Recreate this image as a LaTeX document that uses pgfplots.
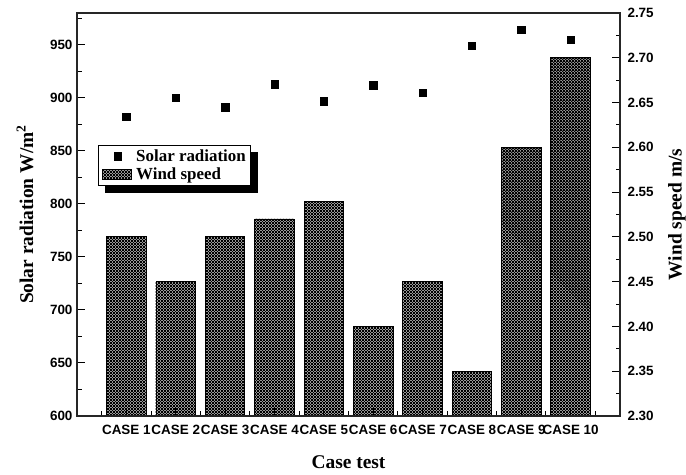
\documentclass[border=0pt]{standalone}
\usepackage{fontspec}
\setmainfont{Liberation Serif}
\setsansfont{Liberation Sans}
\usepackage{pgfplots}
\pgfplotsset{compat=1.18}
\usetikzlibrary{patterns.meta}
\pgfdeclarelayer{background}
\pgfsetlayers{background,main}

\tikzdeclarepattern{
  name=xhatch,
  type=uncolored,
  bounding box={(-0.5bp,-0.5bp) and (3.5bp,3.5bp)},
  tile size={(3bp,3bp)},
  code={
    \draw[line width=1.05bp] (-0.5bp,-0.5bp) -- (3.5bp,3.5bp);
    \draw[line width=1.05bp] (-0.5bp,3.5bp) -- (3.5bp,-0.5bp);
  }
}
\pgfplotsset{
  solarleg/.style={legend image code/.code={\path (0bp,0bp) (32bp,0bp); \draw[##1] plot coordinates {(15.5bp,0)};}},
  windleg/.style={legend image code/.code={\path (32bp,0bp); \draw[draw=black, line width=0.6bp, pattern={xhatch}, pattern color=black] (0bp,-5bp) rectangle (29bp,5bp);}},
}

\begin{document}
\begin{tikzpicture}
\useasboundingbox (-77bp,-59bp) rectangle (609bp,416bp);
\pgfplotsset{
  common/.style={
    scale only axis, width=543bp, height=403bp, at={(0,0)}, anchor=south west,
    xmin=0, xmax=11,
    tick align=inside,
    major tick length=8bp, minor tick length=4.5bp,
    every tick/.style={black, line width=1bp},
    axis line style={line width=1.3bp, black!85},
    tick label style={font=\sffamily\bfseries\fontsize{13.5}{15}\selectfont},
    /pgf/number format/assume math mode=true,
  }
}
% Wind speed bars (right axis)
\begin{axis}[common,
  ymin=2.30, ymax=2.75,
  axis y line*=right, axis x line=none,
  ytick={2.30,2.35,2.40,2.45,2.50,2.55,2.60,2.65,2.70,2.75},
  minor ytick={2.325,2.375,2.425,2.475,2.525,2.575,2.625,2.675,2.725},
  yticklabel style={xshift=4bp, /pgf/number format/.cd, fixed, fixed zerofill, precision=2},
  ylabel={Wind speed m/s},
  every axis y label/.style={at={(rel axis cs:1,0.5)}, anchor=center, xshift=57bp, rotate=90,
    font=\rmfamily\bfseries\fontsize{19.5}{22}\selectfont},
]
\addplot[ybar, bar width=0.8, draw=black, line width=0.8bp, pattern={xhatch}, pattern color=black]
  coordinates {(1,2.50)(2,2.45)(3,2.50)(4,2.52)(5,2.54)(6,2.40)(7,2.45)(8,2.35)(9,2.60)(10,2.70)};
\end{axis}
% Solar radiation points (left axis)
\begin{axis}[common,
  ymin=600, ymax=980,
  ytick pos=left, xtick pos=bottom,
  xtick={1,2,3,4,5,6,7,8,9,10},
  xticklabels={CASE 1,CASE 2,CASE 3,CASE 4,CASE 5,CASE 6,CASE 7,CASE 8,CASE 9,CASE 10},
  xticklabel style={yshift=-6bp},
  yticklabel style={xshift=-1bp},
  minor xtick={0.5,1.5,2.5,3.5,4.5,5.5,6.5,7.5,8.5,9.5,10.5},
  ytick={600,650,700,750,800,850,900,950},
  minor ytick={625,675,725,775,825,875,925,975},
  xlabel={Case test},
  ylabel={Solar radiation W/m\textsuperscript{2}},
  every axis y label/.style={at={(rel axis cs:0,0.5)}, anchor=center, xshift=-52bp, rotate=90,
    font=\rmfamily\bfseries\fontsize{19.5}{22}\selectfont},
  every axis x label/.style={at={(rel axis cs:0.5,0)}, anchor=center, yshift=-46bp,
    font=\rmfamily\bfseries\fontsize{19.5}{22}\selectfont},
  legend cell align=left,
  legend style={name=leg, at={(0.0387,0.6725)}, anchor=north west, draw=black, line width=0.8bp, fill=white,
    font=\rmfamily\bfseries\fontsize{17}{19}\selectfont,
    inner xsep=3.5bp, inner ysep=3bp, row sep=1.5bp,
    nodes={inner sep=1.5bp}},
]
\addplot[only marks, mark=square*, mark size=3.7bp, black, solarleg]
  coordinates {(1,882)(2,900)(3,891)(4,913)(5,897)(6,912)(7,905)(8,949)(9,964)(10,955)};
\addlegendentry{Solar radiation}
\addlegendimage{windleg}
\addlegendentry{Wind speed}
\end{axis}
\begin{pgfonlayer}{background}
\fill[black] ([xshift=7bp,yshift=-7bp]leg.south west) rectangle ([xshift=7bp,yshift=-7bp]leg.north east);
\end{pgfonlayer}
\end{tikzpicture}
\end{document}
